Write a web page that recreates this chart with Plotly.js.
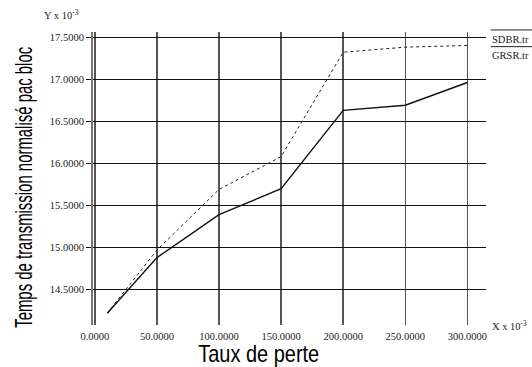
<!DOCTYPE html>
<html><head><meta charset="utf-8">
<script src="https://cdn.plot.ly/plotly-3.0.1.min.js"></script>
<style>html,body{margin:0;padding:0;background:#fff}</style>
</head><body>
<div id="chart" style="width:532px;height:367px"></div>
<script>
const xValues = [10, 50, 100, 150, 200, 250, 300];
const sdbr = [14.22, 14.97, 15.69, 16.08, 17.32, 17.38, 17.40];
const grsr = [14.22, 14.88, 15.39, 15.70, 16.63, 16.69, 16.96];
const xTicks = [0, 50, 100, 150, 200, 250, 300];
const xTickText = ['0.0000','50.0000','100.0000','150.0000','200.0000','250.0000','300.0000'];
const yTicks = [14.5, 15.0, 15.5, 16.0, 16.5, 17.0, 17.5];
const yTickText = ['14.5000','15.0000','15.5000','16.0000','16.5000','17.0000','17.5000'];

const serif = 'Liberation Serif, Times New Roman, serif';
const sans = 'Liberation Sans, Arial, sans-serif';
const yTitle = 'Temps de transmission normalisé pac bloc';
const xTitle = 'Taux de perte';

const traces = [
  {x: xValues, y: sdbr, mode: 'lines', name: 'SDBR.tr', line: {color: '#222', width: 1, dash: 'dot'}},
  {x: xValues, y: grsr, mode: 'lines', name: 'GRSR.tr', line: {color: '#111', width: 1.4}}
];

const layout = {
  width: 532, height: 367,
  margin: {l: 93, r: 46, t: 32, b: 42},
  paper_bgcolor: '#fff', plot_bgcolor: '#fff',
  showlegend: false,
  xaxis: {
    range: [-1.5, 315], tickvals: xTicks, ticktext: xTickText,
    showgrid: true, gridcolor: '#555', gridwidth: 1.5,
    zeroline: false, showline: false, ticks: '', ticklabelstandoff: 3,
    tickfont: {family: serif, size: 10.5, color: '#222'}
  },
  yaxis: {
    range: [14.08, 17.56], tickvals: yTicks, ticktext: yTickText,
    showgrid: true, gridcolor: '#111', gridwidth: 1,
    zeroline: false, showline: true, linecolor: '#777', linewidth: 2,
    ticks: 'outside', ticklen: 5, tickcolor: '#111',
    tickfont: {family: serif, size: 10.5, color: '#222'}
  },
  annotations: [
    {text: 'Y x 10<sup>-3</sup>', xref: 'paper', yref: 'paper', x: -0.13, y: 1.03, xanchor: 'left', yanchor: 'bottom', showarrow: false, font: {family: serif, size: 10.5, color: '#222'}},
    {text: 'X x 10<sup>-3</sup>', xref: 'paper', yref: 'paper', x: 1.01, y: 0.0, xanchor: 'left', yanchor: 'middle', showarrow: false, font: {family: serif, size: 10.5, color: '#222'}},
    {text: 'SDBR.tr', xref: 'paper', yref: 'paper', x: 1.01, y: 1.0, xanchor: 'left', yanchor: 'top', showarrow: false, font: {family: serif, size: 10.5, color: '#222'}},
    {text: 'GRSR.tr', xref: 'paper', yref: 'paper', x: 1.01, y: 0.945, xanchor: 'left', yanchor: 'top', showarrow: false, font: {family: serif, size: 10.5, color: '#222'}},
    {text: yTitle, xref: 'paper', yref: 'paper', x: -0.176, y: 0.469, textangle: -90, xanchor: 'center', yanchor: 'middle', showarrow: false, font: {family: sans, size: 24, color: '#000'}},
    {text: xTitle, xref: 'paper', yref: 'paper', x: 0.42, y: -0.098, xanchor: 'center', yanchor: 'middle', showarrow: false, font: {family: sans, size: 24, color: '#000'}}
  ],
  shapes: [
    {type: 'line', xref: 'paper', yref: 'paper', x0: 1.012, x1: 1.12, y0: 1.007, y1: 1.007, line: {color: '#222', width: 1}},
    {type: 'line', xref: 'paper', yref: 'paper', x0: 1.012, x1: 1.12, y0: 0.95, y1: 0.95, line: {color: '#222', width: 1}}
  ]
};

Plotly.newPlot('chart', traces, layout, {staticPlot: true, displayModeBar: false}).then(function () {
  // condense the two big axis titles like the reference's narrow font
  document.querySelectorAll('.annotation-text').forEach(function (t) {
    if (t.textContent === yTitle) { t.setAttribute('textLength', 281); t.setAttribute('lengthAdjust', 'spacingAndGlyphs'); }
    if (t.textContent === xTitle) { t.setAttribute('textLength', 121); t.setAttribute('lengthAdjust', 'spacingAndGlyphs'); }
  });
});
</script>
</body></html>
